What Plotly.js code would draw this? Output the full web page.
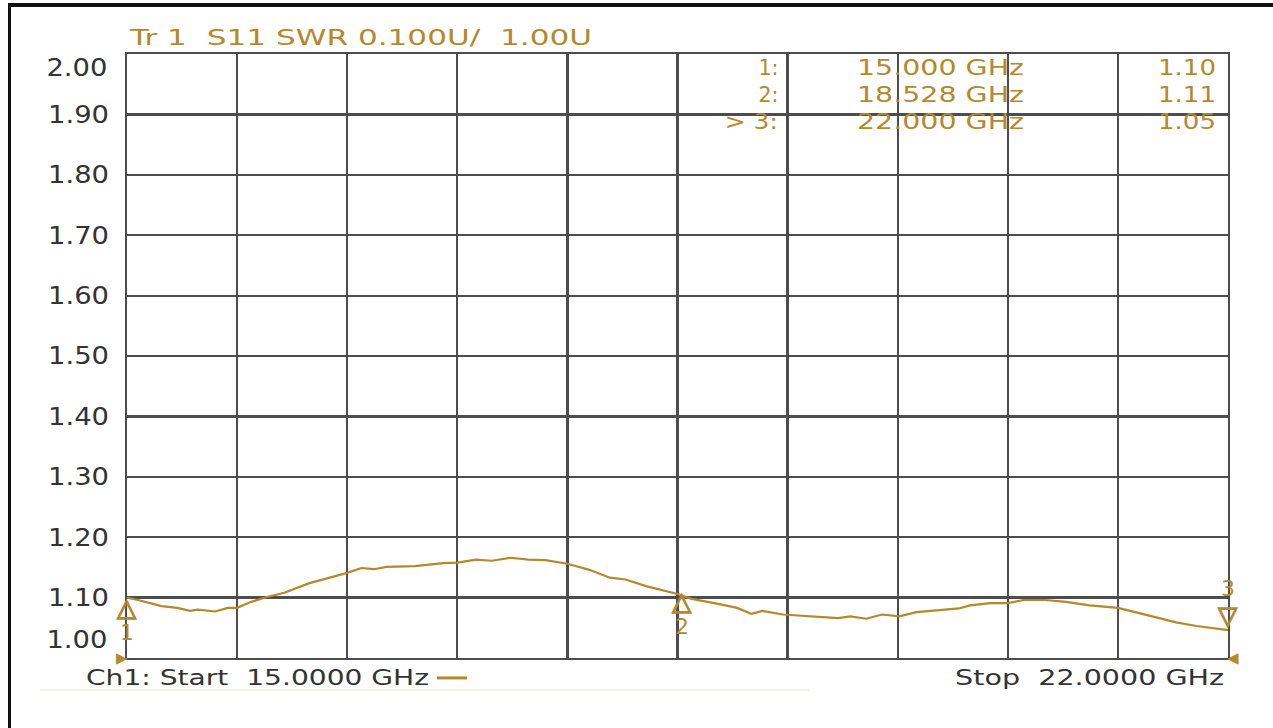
<!DOCTYPE html>
<html>
<head>
<meta charset="utf-8">
<script src="https://cdn.plot.ly/plotly-3.0.1.min.js"></script>
<style>
  html, body { margin: 0; padding: 0; background: #ffffff; }
  #chart { width: 1273px; height: 728px; position: absolute; left: 0; top: 0; }
  #frame { position: absolute; left: 8px; top: 3px; width: 1265px; height: 725px;
           border-top: 4px solid #111; border-left: 3px solid #111; box-sizing: border-box;
           pointer-events: none; }
</style>
</head>
<body>
<div id="chart"></div>
<div id="frame"></div>
<script>
// ---- data ----
const freqGHz = [15.00,15.07,15.22,15.32,15.40,15.45,15.56,15.64,15.70,15.79,15.89,16.00,16.16,16.26,16.40,16.49,16.57,16.65,16.83,17.01,17.10,17.22,17.32,17.44,17.55,17.66,17.80,17.94,18.07,18.17,18.30,18.50,18.59,18.75,18.88,18.97,19.04,19.17,19.36,19.52,19.60,19.70,19.80,19.91,20.02,20.17,20.29,20.36,20.49,20.60,20.70,20.84,20.97,21.12,21.30,21.41,21.54,21.67,21.80,21.93,22.00];
const swr = [1.100,1.096,1.086,1.083,1.078,1.080,1.077,1.083,1.083,1.093,1.101,1.108,1.124,1.131,1.141,1.149,1.147,1.151,1.152,1.157,1.158,1.163,1.161,1.166,1.163,1.162,1.156,1.146,1.133,1.130,1.119,1.106,1.098,1.090,1.083,1.073,1.078,1.072,1.069,1.066,1.069,1.065,1.072,1.069,1.076,1.080,1.082,1.087,1.091,1.091,1.096,1.096,1.093,1.087,1.083,1.076,1.067,1.059,1.053,1.049,1.046];

const markerIds = ["1:", "2:", "> 3:"];
const markerNums = ["1", "2", "3"];
const markerFreq = [15.000, 18.528, 22.000];
const markerFreqLabels = ["15.000 GHz", "18.528 GHz", "22.000 GHz"];
const markerSwr = [1.10, 1.11, 1.05];
const markerSwrLabels = ["1.10", "1.11", "1.05"];

const xGrid = [15.0, 15.7, 16.4, 17.1, 17.8, 18.5, 19.2, 19.9, 20.6, 21.3, 22.0];
const yTickVals = [1.1, 1.2, 1.3, 1.4, 1.5, 1.6, 1.7, 1.8, 1.9];
const yTickText = ["1.10", "1.20", "1.30", "1.40", "1.50", "1.60", "1.70", "1.80", "1.90"];
const yEndVals = [2.0, 1.0];
const yEndText = ["2.00", "1.00"];

const titleText = "Tr 1  S11 SWR 0.100U/  1.00U";
const startText = "Ch1: Start  15.0000 GHz";
const stopText = "Stop  22.0000 GHz";

// ---- styles ----
const GOLD = "#b5882c";
const GRID = "#4d4d4d";
const TXT = "#333333";
const FONT = "DejaVu Sans, Verdana, sans-serif";
const PLOT_L = 127, PLOT_W = 1101;           // plot area in pixels (from margins)
const px = v => (v - PLOT_L) / PLOT_W;       // pixel -> paper x

// horizontal stretch widths (px) of texts, the reference font is wide
const stretch = {};
stretch[titleText] = 462;
stretch[startText] = 343;
stretch[stopText] = 269;
stretch["1:"] = 20; stretch["2:"] = 20; stretch["> 3:"] = 53;
markerFreqLabels.forEach(t => stretch[t] = 167);
markerSwrLabels.forEach(t => stretch[t] = 58);
yEndText.forEach(t => stretch[t] = 61);
const TICK_W = 61;

const trace = {
  x: freqGHz, y: swr, type: "scatter", mode: "lines",
  line: { color: GOLD, width: 2.2 }, hoverinfo: "skip", showlegend: false
};

const annotations = [];
function ann(o) { annotations.push(Object.assign({ showarrow: false }, o)); }
// title
ann({ xref: "paper", yref: "paper", x: px(127), y: 1, xanchor: "left", align: "left", yanchor: "bottom",
  yshift: 2, text: titleText, font: { family: FONT, size: 22, color: GOLD } });
// end y labels
ann({ xref: "paper", yref: "y", x: px(109), y: yEndVals[0], xanchor: "right", align: "right", yanchor: "middle",
  yshift: -14, text: yEndText[0], font: { family: FONT, size: 24, color: TXT } });
ann({ xref: "paper", yref: "y", x: px(109), y: yEndVals[1], xanchor: "right", align: "right", yanchor: "middle",
  yshift: 18, text: yEndText[1], font: { family: FONT, size: 24, color: TXT } });
// marker table
const rowShift = [-13, -40, -67];
for (let i = 0; i < markerIds.length; i++) {
  ann({ xref: "paper", yref: "paper", x: px(780), y: 1, xanchor: "right", align: "right", yanchor: "middle",
    yshift: rowShift[i], text: markerIds[i], font: { family: FONT, size: 22, color: GOLD } });
  ann({ xref: "paper", yref: "paper", x: px(855), y: 1, xanchor: "left", align: "left", yanchor: "middle",
    yshift: rowShift[i], text: markerFreqLabels[i], font: { family: FONT, size: 22, color: GOLD } });
  ann({ xref: "paper", yref: "paper", x: px(1218), y: 1, xanchor: "right", align: "right", yanchor: "middle",
    yshift: rowShift[i], text: markerSwrLabels[i], font: { family: FONT, size: 22, color: GOLD } });
}
// marker symbols on the trace
for (let i = 0; i < markerFreq.length; i++) {
  const below = i < 2;
  ann({ xref: "x", yref: "y", x: markerFreq[i], y: markerSwr[i], xanchor: "center",
    yanchor: below ? "top" : "bottom", yshift: below ? 7 : -4, text: below ? "△" : "▽",
    font: { family: FONT, size: 25, color: GOLD } });
  ann({ xref: "x", yref: "y", x: markerFreq[i], y: markerSwr[i], xanchor: "center",
    yanchor: below ? "top" : "bottom", yshift: below ? -20 : 25, text: markerNums[i],
    font: { family: FONT, size: 22, color: GOLD } });
}
// start / stop lines
ann({ xref: "paper", yref: "paper", x: px(84), y: 0, xanchor: "left", align: "left", yanchor: "top",
  yshift: -5, text: startText, font: { family: FONT, size: 22, color: TXT } });
ann({ xref: "paper", yref: "paper", x: px(1226), y: 0, xanchor: "right", align: "right", yanchor: "top",
  yshift: -5, text: stopText, font: { family: FONT, size: 22, color: TXT } });
// start/stop pointers
ann({ xref: "paper", yref: "paper", x: 0, y: 0, xanchor: "right", yanchor: "middle",
  xshift: 3, text: "▶", font: { family: FONT, size: 15, color: GOLD } });
ann({ xref: "paper", yref: "paper", x: 1, y: 0, xanchor: "left", yanchor: "middle",
  xshift: -3, text: "◀", font: { family: FONT, size: 15, color: GOLD } });

const shapes = [
  { type: "line", xref: "paper", yref: "paper", x0: px(437), x1: px(467), y0: -0.033, y1: -0.033,
    line: { color: GOLD, width: 3 } },
  { type: "line", xref: "paper", yref: "paper", x0: px(40), x1: px(810), y0: -0.053, y1: -0.053,
    line: { color: "#f1ede0", width: 1.5 } }
];

const layout = {
  width: 1273, height: 728,
  margin: { l: 127, r: 45, t: 54, b: 70 },
  paper_bgcolor: "#ffffff", plot_bgcolor: "#ffffff",
  showlegend: false,
  xaxis: {
    range: [xGrid[0], xGrid[xGrid.length - 1]], tickmode: "array", tickvals: xGrid,
    showticklabels: false, ticks: "", showgrid: true, gridcolor: GRID, gridwidth: 2.2,
    showline: true, mirror: true, linecolor: GRID, linewidth: 2.2, zeroline: false, fixedrange: true
  },
  yaxis: {
    range: [1.0, 2.0], tickmode: "array", tickvals: yTickVals, ticktext: yTickText,
    ticks: "", ticklabelstandoff: 11, showgrid: true, gridcolor: GRID, gridwidth: 2.2,
    showline: true, mirror: true, linecolor: GRID, linewidth: 2.2, zeroline: false, fixedrange: true,
    tickfont: { family: FONT, size: 24, color: TXT }
  },
  annotations: annotations,
  shapes: shapes
};

Plotly.newPlot("chart", [trace], layout, { displayModeBar: false, staticPlot: true }).then(gd => {
  gd.querySelectorAll("text.annotation-text").forEach(t => {
    const w = stretch[t.textContent];
    if (w) { t.setAttribute("textLength", w); t.setAttribute("lengthAdjust", "spacingAndGlyphs"); }
    if (t.textContent === "△" || t.textContent === "▽") {
      t.style.stroke = GOLD; t.style.strokeWidth = "1.2px";
    }
  });
  gd.querySelectorAll(".ytick text").forEach(t => {
    t.setAttribute("textLength", TICK_W); t.setAttribute("lengthAdjust", "spacingAndGlyphs");
  });
});
</script>
</body>
</html>
